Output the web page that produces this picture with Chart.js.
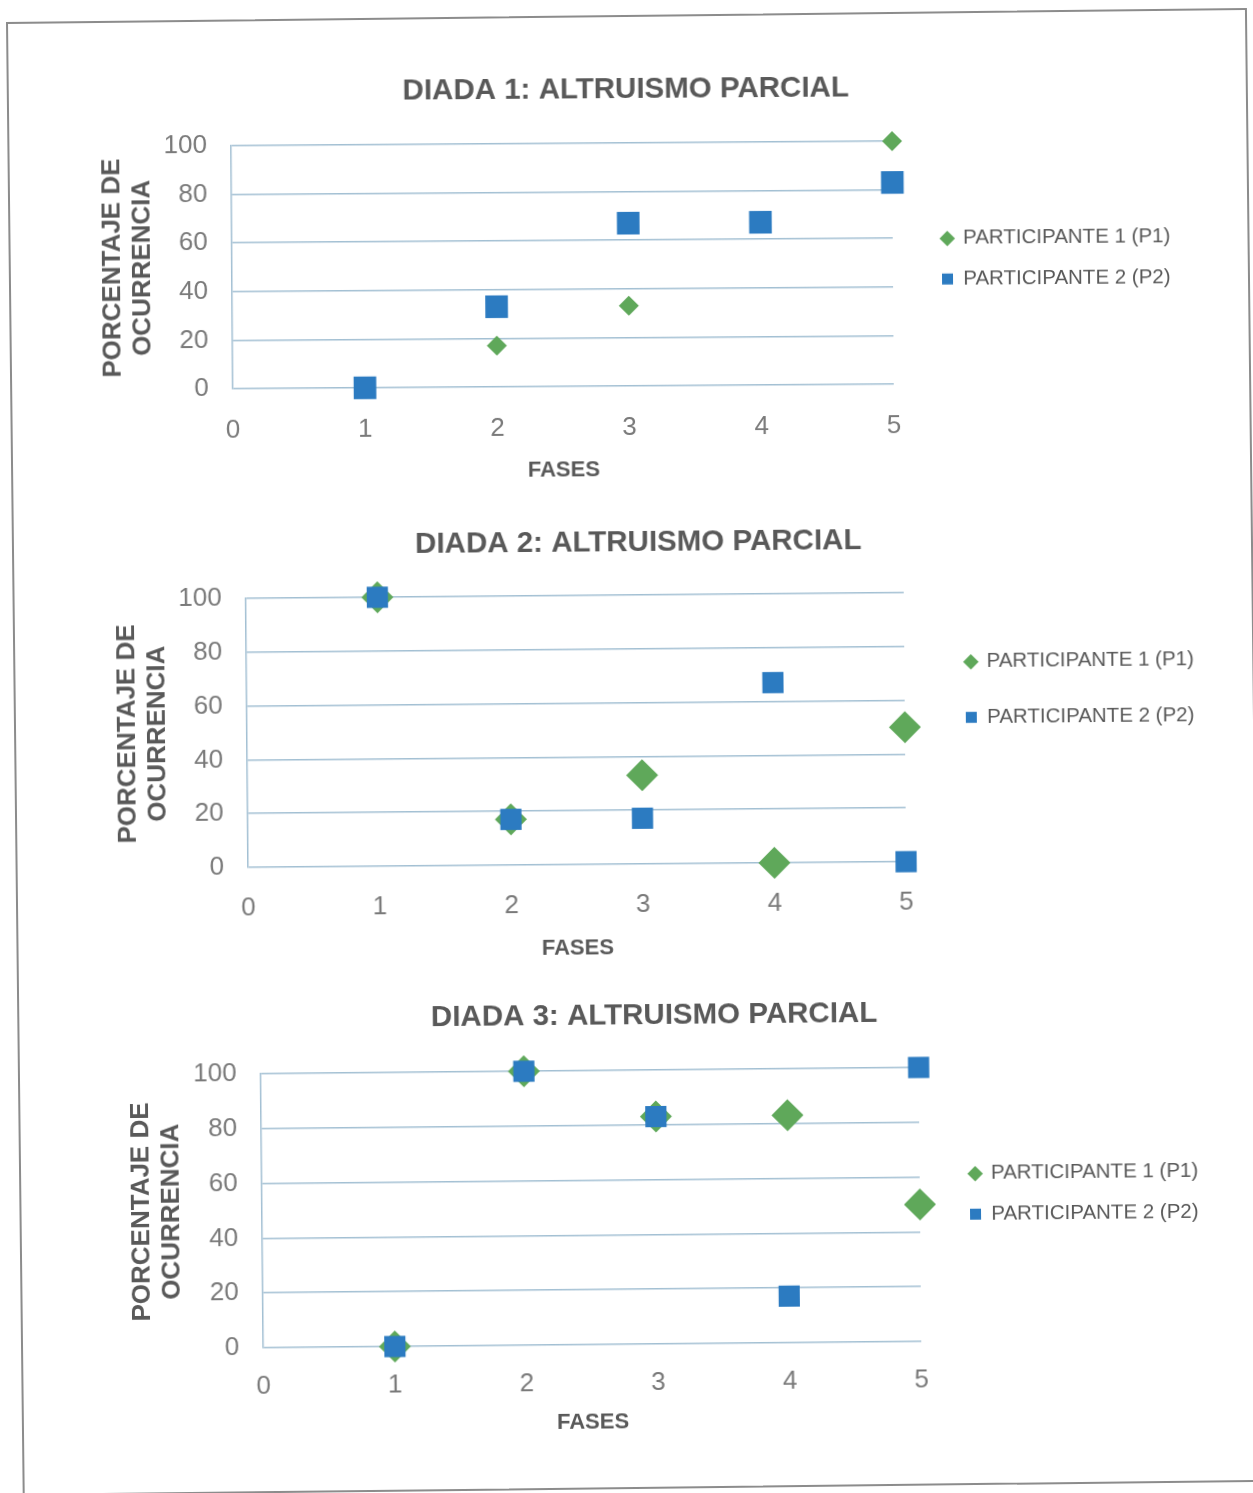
<!DOCTYPE html>
<html>
<head>
<meta charset="utf-8">
<title>Altruismo parcial por díada</title>
<script src="https://cdn.jsdelivr.net/npm/chart.js@4.4.1/dist/chart.umd.min.js"></script>
<style>
  html, body { margin: 0; padding: 0; background: #ffffff; }
  body { width: 1253px; height: 1493px; position: relative; overflow: hidden; }
  .frame {
    position: absolute; left: 6px; top: 22px; width: 1241px; height: 1474px;
    border: 2px solid #8c8c8c; box-sizing: border-box;
    transform-origin: 0 0; transform: rotate(-0.65deg);
  }
  canvas { position: absolute; }
</style>
</head>
<body>
<div class="frame"></div>
<canvas id="c1"></canvas>
<canvas id="c2"></canvas>
<canvas id="c3"></canvas>
<script>
// Phases on the x axis and the tick values of both axes
const fases = [1, 2, 3, 4, 5];
const xTicks = [0, 1, 2, 3, 4, 5];
const yTicks = [0, 20, 40, 60, 80, 100];

const seriesNames = ['PARTICIPANTE 1 (P1)', 'PARTICIPANTE 2 (P2)'];
const titles = ['DIADA 1: ALTRUISMO PARCIAL', 'DIADA 2: ALTRUISMO PARCIAL', 'DIADA 3: ALTRUISMO PARCIAL'];
const yTitle = ['PORCENTAJE DE', 'OCURRENCIA'];
const xTitle = 'FASES';

// Percentage of occurrence per phase (null = no point drawn)
const diada1P1 = [null, 17, 33, null, 100];
const diada1P2 = [0, 33, 67, 67, 83];
const diada2P1 = [100, 17, 33, 0, 50];
const diada2P2 = [100, 17, 17, 67, 0];
const diada3P1 = [0, 100, 83, 83, 50];
const diada3P2 = [0, 100, 83, 17, 100];

const GREEN = '#5fa85a';
const BLUE = '#2c7bc1';
const GRID = '#a3c0d3';
const TEXT = '#595959';
const TICK = '#7a7a7a';
const SANS = "'Liberation Sans', Arial, sans-serif";

// Legend sits to the right of the plot with a fixed box width and an offset
const legendPlacement = {
  id: 'legendPlacement',
  afterInit(chart, args, opts) {
    const lg = chart.legend;
    const fit = lg.fit;
    lg.fit = function () { fit.call(this); this.width = opts.width; };
  },
  afterLayout(chart, args, opts) {
    const lg = chart.legend;
    lg.left += opts.dx; lg.right += opts.dx;
    lg.top += opts.dy; lg.bottom += opts.dy;
  }
};

const panels = [
  { id: 'c1', left: 60, top: 50, width: 1134, height: 450, tilt: -0.4,
    title: titles[0], p1: diada1P1, p2: diada1P2,
    titlePad: { top: 21.7, bottom: 35.9 }, yWidth: 172, yTitlePad: 38,
    xHeight: 114, xTickPad: 18, xTitlePad: 17,
    legend: { width: 301, dx: 29, dy: -14 }, legendGap: 20, r1: 10, r2: 16 },
  { id: 'c2', left: 75, top: 505, width: 1130, height: 465, tilt: -0.5,
    title: titles[1], p1: diada2P1, p2: diada2P2,
    titlePad: { top: 19.7, bottom: 34.9 }, yWidth: 172, yTitlePad: 38,
    xHeight: 106, xTickPad: 17, xTitlePad: 9,
    legend: { width: 300, dx: 26, dy: -45 }, legendGap: 35, r1: 16, r2: 15 },
  { id: 'c3', left: 102, top: 975, width: 1108, height: 470, tilt: -0.55,
    title: titles[2], p1: diada3P1, p2: diada3P2,
    titlePad: { top: 22.7, bottom: 36.9 }, yWidth: 160, yTitlePad: 25,
    xHeight: 101, xTickPad: 15, xTitlePad: 10,
    legend: { width: 290, dx: 30, dy: -13 }, legendGap: 20, r1: 16, r2: 15 }
];

function points(values) {
  return fases.map((f, i) => ({ x: f, y: values[i] })).filter(d => d.y !== null);
}

panels.forEach(p => {
  const cv = document.getElementById(p.id);
  cv.width = p.width; cv.height = p.height;
  cv.style.left = p.left + 'px'; cv.style.top = p.top + 'px';
  cv.style.transform = 'rotate(' + p.tilt + 'deg)';

  new Chart(cv.getContext('2d'), {
    type: 'scatter',
    data: {
      datasets: [
        { label: seriesNames[0], data: points(p.p1), pointStyle: 'rectRot',
          pointRadius: p.r1, backgroundColor: GREEN, borderColor: GREEN, borderWidth: 0,
          order: 2, clip: false },
        { label: seriesNames[1], data: points(p.p2), pointStyle: 'rect',
          pointRadius: p.r2, backgroundColor: BLUE, borderColor: BLUE, borderWidth: 0,
          order: 1, clip: false }
      ]
    },
    options: {
      responsive: false,
      animation: false,
      events: [],
      layout: { padding: 0 },
      plugins: {
        title: { display: true, text: p.title, color: TEXT,
          font: { family: SANS, size: 29.5, weight: 'bold' }, padding: p.titlePad },
        legend: { position: 'right', align: 'center',
          labels: { usePointStyle: true, boxWidth: 11, boxHeight: 11, padding: p.legendGap,
            color: TEXT, font: { family: SANS, size: 20.5 },
            sort: (a, b) => a.datasetIndex - b.datasetIndex } },
        tooltip: { enabled: false },
        legendPlacement: p.legend
      },
      scales: {
        x: {
          type: 'linear', min: 0, max: 5,
          afterBuildTicks: s => { s.ticks = xTicks.map(v => ({ value: v })); },
          afterFit: s => { s.height = p.xHeight; },
          grid: { display: false },
          border: { display: false },
          ticks: { padding: p.xTickPad, color: TICK, font: { family: SANS, size: 26 } },
          title: { display: true, text: xTitle, color: TEXT,
            font: { family: SANS, size: 22, weight: 'bold' }, padding: { top: 0, bottom: p.xTitlePad } }
        },
        y: {
          type: 'linear', min: 0, max: 100,
          afterBuildTicks: s => { s.ticks = yTicks.map(v => ({ value: v })); },
          afterFit: s => { s.width = p.yWidth; },
          grid: { color: GRID, lineWidth: 1.5, drawTicks: false },
          border: { display: true, color: GRID, width: 1.5 },
          ticks: { padding: 24, color: TICK, font: { family: SANS, size: 26 } },
          title: { display: true, text: yTitle, color: TEXT,
            font: { family: SANS, size: 26, weight: 'bold', lineHeight: 1.15 },
            padding: { top: p.yTitlePad, bottom: 0 } }
        }
      }
    },
    plugins: [legendPlacement]
  });
});
</script>
</body>
</html>
